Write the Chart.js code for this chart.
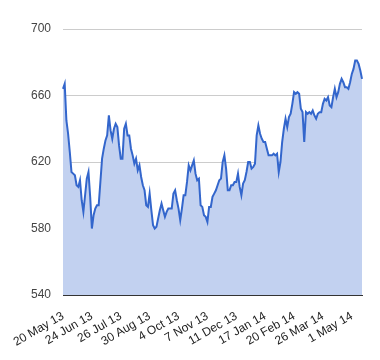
<!DOCTYPE html>
<html>
<head>
<meta charset="utf-8">
<script src="https://cdn.jsdelivr.net/npm/chart.js@4"></script>
<style>
  body { margin: 0; background: #fff; }
  #wrap { width: 380px; height: 360px; }
</style>
</head>
<body>
<div id="wrap"><canvas id="myChart" width="380" height="360"></canvas></div>
<script>
// tick labels shown along the x axis, one every 17 points
let tickLabels = ["20 May 13", "24 Jun 13", "26 Jul 13", "30 Aug 13", "4 Oct 13", "7 Nov 13",
    "11 Dec 13", "17 Jan 14", "20 Feb 14", "26 Mar 14", "1 May 14"];
let tickEvery = 17;

// closing values
let values = [
    664, 667, 645, 637, 626, 614, 613, 612, 606, 605, 609, 597, 590, 600, 610, 614, 599,
    580, 588, 592, 594, 594, 608, 622, 628, 633, 636, 648, 639, 634, 640, 643, 641, 630,
    622, 622, 640, 643, 636, 636, 628, 624, 619, 622, 615, 618, 611, 606, 603, 594, 593,
    601, 591, 582, 580, 581, 586, 591, 595, 591, 587, 590, 592, 592, 592, 601, 603, 597,
    592, 585, 592, 600, 600, 608, 618, 615, 618, 621, 613, 609, 610, 594, 593, 588, 587,
    584, 593, 593, 599, 601, 603, 606, 609, 610, 620, 624, 616, 603, 603, 606, 606, 608,
    608, 613, 605, 600, 607, 609, 614, 620, 620, 616, 617, 619, 636, 642, 637, 634, 632,
    632, 628, 624, 624, 624, 625, 624, 625, 614, 620, 632, 640, 646, 641, 647, 649, 655,
    662, 661, 662, 661, 652, 650, 632, 650, 649, 650, 649, 651, 648, 646, 649, 650, 650,
    655, 658, 657, 659, 654, 653, 659, 664, 659, 662, 667, 670, 668, 665, 665, 664, 668,
    673, 676, 681, 681, 679, 675, 670
];

let yTicks = [540, 580, 620, 660, 700];

let labels = values.map((v, i) => (i % tickEvery === 0 && tickLabels[i / tickEvery]) ? tickLabels[i / tickEvery] : '');

let ctx = document.getElementById("myChart").getContext('2d');
let myChart = new Chart(ctx, {
    type: 'line',
    data: {
        labels: labels,
        datasets: [{
            data: values,
            borderColor: '#3366cc',
            backgroundColor: '#c2d1f0',
            borderWidth: 2,
            pointRadius: 0,
            tension: 0,
            fill: 'start'
        }]
    },
    options: {
        responsive: false,
        animation: false,
        layout: { padding: { left: 0, right: 18, top: 29, bottom: 0 } },
        plugins: {
            legend: { display: false },
            tooltip: { enabled: false }
        },
        scales: {
            x: {
                offset: false,
                grid: { display: false },
                border: { display: true, color: '#333', width: 1 },
                afterFit: s => { s.height = 65; },
                ticks: {
                    autoSkip: false,
                    minRotation: 30,
                    maxRotation: 30,
                    padding: 6,
                    color: '#222',
                    font: { family: 'Liberation Sans', size: 12 }
                }
            },
            y: {
                min: yTicks[0],
                max: yTicks[yTicks.length - 1],
                afterFit: s => { s.width = 63; },
                afterBuildTicks: s => { s.ticks = yTicks.map(v => ({ value: v })); },
                grid: { color: '#cccccc', drawTicks: false },
                border: { display: false },
                ticks: {
                    padding: 12,
                    color: '#444',
                    font: { family: 'Liberation Sans', size: 12 }
                }
            }
        }
    }
});
</script>
</body>
</html>
